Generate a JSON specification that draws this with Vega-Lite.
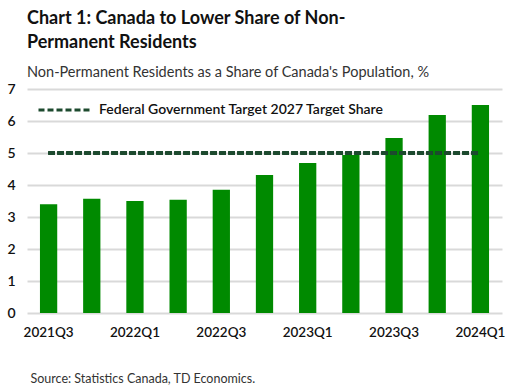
{
  "$schema": "https://vega.github.io/schema/vega-lite/v6.json",
  "width": 475,
  "height": 224,
  "autosize": "none",
  "padding": {"left": 27, "top": 89, "right": 14, "bottom": 73},
  "background": "white",
  "title": {
    "text": ["Chart 1: Canada to Lower Share of Non-", "Permanent Residents"],
    "subtitle": "Non-Permanent Residents as a Share of Canada's Population, %",
    "anchor": "start",
    "frame": "group",
    "font": "Lato",
    "fontSize": 18,
    "fontWeight": "bold",
    "color": "#111111",
    "lineHeight": 24,
    "subtitleFont": "Lato",
    "subtitleFontSize": 14.5,
    "subtitleColor": "#333333",
    "subtitlePadding": 14,
    "offset": 3
  },
  "config": {"view": {"stroke": null}},
  "data": {
    "values": [
      {"quarter": "2021Q3", "share": 3.4},
      {"quarter": "2021Q4", "share": 3.57},
      {"quarter": "2022Q1", "share": 3.5},
      {"quarter": "2022Q2", "share": 3.54},
      {"quarter": "2022Q3", "share": 3.85},
      {"quarter": "2022Q4", "share": 4.31},
      {"quarter": "2023Q1", "share": 4.69},
      {"quarter": "2023Q2", "share": 4.94},
      {"quarter": "2023Q3", "share": 5.47},
      {"quarter": "2023Q4", "share": 6.19},
      {"quarter": "2024Q1", "share": 6.5}
    ]
  },
  "layer": [
    {
      "mark": {"type": "bar", "color": "#008a00"},
      "encoding": {
        "x": {
          "field": "quarter", "type": "nominal", "sort": null,
          "scale": {"paddingInner": 0.6, "paddingOuter": 0.3},
          "axis": {
            "values": ["2021Q3", "2022Q1", "2022Q3", "2023Q1", "2023Q3", "2024Q1"],
            "labelAngle": 0, "ticks": false, "domain": false, "grid": false,
            "labelFont": "Lato", "labelFontSize": 13.5, "labelFontWeight": 600, "labelColor": "#111111",
            "labelPadding": 12, "labelOverlap": false,
            "title": "Source: Statistics Canada, TD Economics.",
            "titleFont": "Lato", "titleFontSize": 12.5, "titleFontWeight": "normal", "titleColor": "#333333",
            "titleAnchor": "start", "titleAlign": "left", "titleBaseline": "alphabetic",
            "titleX": 3, "titleY": 69
          }
        },
        "y": {
          "field": "share", "type": "quantitative",
          "scale": {"domain": [0, 7], "nice": false},
          "axis": {
            "values": [0, 1, 2, 3, 4, 5, 6, 7],
            "title": null, "ticks": false, "domain": false,
            "gridColor": "#d9d9d9", "gridWidth": 2,
            "labelFont": "Lato", "labelFontSize": 14, "labelFontWeight": 600, "labelColor": "#111111",
            "labelPadding": 12, "labelOverlap": false
          }
        }
      }
    },
    {
      "mark": {"type": "rule", "color": "#1d4a2e", "strokeWidth": 3},
      "encoding": {
        "x": {"datum": "2021Q3", "type": "nominal"},
        "x2": {"datum": "2024Q1"},
        "y": {
          "datum": 5, "type": "quantitative",
          "axis": {
            "values": [0, 1, 2, 3, 4, 5, 6, 7],
            "title": null, "ticks": false, "domain": false,
            "gridColor": "#d9d9d9", "gridWidth": 2,
            "labelFont": "Lato", "labelFontSize": 14, "labelFontWeight": 600, "labelColor": "#111111",
            "labelPadding": 12, "labelOverlap": false
          }
        },
        "strokeDash": {
          "datum": "Federal Government Target 2027 Target Share",
          "type": "nominal",
          "scale": {"range": [[6, 3]]},
          "legend": {
            "title": null, "orient": "none", "legendX": 10, "legendY": -7,
            "symbolType": "stroke", "symbolSize": 2809, "symbolStrokeWidth": 3,
            "symbolStrokeColor": "#1d4a2e",
            "labelFont": "Lato", "labelFontSize": 14, "labelFontWeight": 600, "labelColor": "#111111",
            "labelOffset": 6, "labelLimit": 0
          }
        }
      }
    }
  ]
}
